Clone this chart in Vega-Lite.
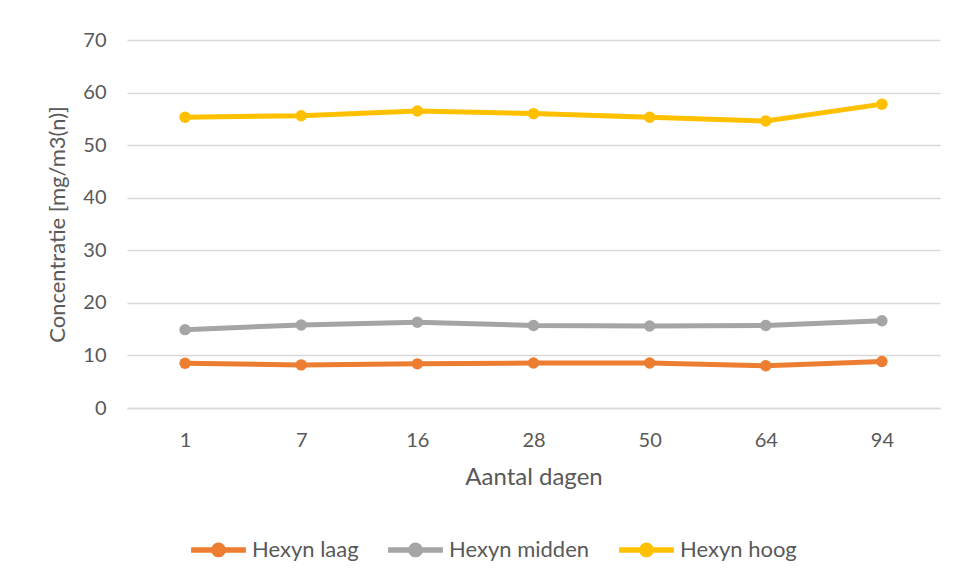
{
  "$schema": "https://vega.github.io/schema/vega-lite/v6.json",
  "width": 813,
  "height": 368,
  "autosize": {"type": "none"},
  "padding": {"left": 127, "top": 40, "right": 20, "bottom": 173},
  "background": "white",
  "config": {
    "view": {"stroke": null},
    "font": "Lato",
    "axis": {"labelColor": "#595959", "titleColor": "#595959", "labelFont": "Lato", "titleFont": "Lato", "titleFontWeight": "normal"},
    "legend": {"labelColor": "#595959", "labelFont": "Lato"}
  },
  "data": {
    "values": [
      {"dag": "1", "serie": "Hexyn laag", "c": 8.5},
      {"dag": "7", "serie": "Hexyn laag", "c": 8.2},
      {"dag": "16", "serie": "Hexyn laag", "c": 8.4},
      {"dag": "28", "serie": "Hexyn laag", "c": 8.55},
      {"dag": "50", "serie": "Hexyn laag", "c": 8.55},
      {"dag": "64", "serie": "Hexyn laag", "c": 8.05},
      {"dag": "94", "serie": "Hexyn laag", "c": 8.85},
      {"dag": "1", "serie": "Hexyn midden", "c": 14.9},
      {"dag": "7", "serie": "Hexyn midden", "c": 15.8},
      {"dag": "16", "serie": "Hexyn midden", "c": 16.3},
      {"dag": "28", "serie": "Hexyn midden", "c": 15.7},
      {"dag": "50", "serie": "Hexyn midden", "c": 15.6},
      {"dag": "64", "serie": "Hexyn midden", "c": 15.7},
      {"dag": "94", "serie": "Hexyn midden", "c": 16.6},
      {"dag": "1", "serie": "Hexyn hoog", "c": 55.3},
      {"dag": "7", "serie": "Hexyn hoog", "c": 55.6},
      {"dag": "16", "serie": "Hexyn hoog", "c": 56.5},
      {"dag": "28", "serie": "Hexyn hoog", "c": 56.0},
      {"dag": "50", "serie": "Hexyn hoog", "c": 55.3},
      {"dag": "64", "serie": "Hexyn hoog", "c": 54.6},
      {"dag": "94", "serie": "Hexyn hoog", "c": 57.8}
    ]
  },
  "encoding": {
    "x": {
      "field": "dag", "type": "ordinal", "sort": null,
      "scale": {"type": "point", "padding": 0.5},
      "axis": {"title": "Aantal dagen", "labelAngle": 0, "labelFontSize": 20, "titleFontSize": 24, "ticks": false, "domainColor": "#D9D9D9", "domainWidth": 1.5, "labelPadding": 22, "titlePadding": 15, "grid": false}
    },
    "y": {
      "field": "c", "type": "quantitative",
      "scale": {"domain": [0, 70]},
      "axis": {"title": "Concentratie [mg/m3(n)]", "values": [0, 10, 20, 30, 40, 50, 60, 70], "labelFontSize": 20, "titleFontSize": 22, "ticks": false, "domain": false, "gridColor": "#D9D9D9", "gridWidth": 1.5, "labelPadding": 21, "titlePadding": 13}
    },
    "color": {
      "field": "serie", "type": "nominal",
      "scale": {"domain": ["Hexyn laag", "Hexyn midden", "Hexyn hoog"], "range": ["#ED7D31", "#A5A5A5", "#FFC000"]},
      "legend": {
        "title": null, "orient": "none", "direction": "horizontal", "legendX": 61, "legendY": 479,
        "labelFontSize": 22, "symbolType": "M-1,0H1M-0.17,0a0.17,0.17 0 1,0 0.34,0a0.17,0.17 0 1,0 -0.34,0", "symbolSize": 3000, "symbolStrokeWidth": 5.5, "labelOffset": 3, "columnPadding": 18,
        "encode": {"symbols": {"update": {"fill": {"scale": "color", "field": "value"}}}}
      }
    }
  },
  "layer": [
    {"mark": {"type": "line", "strokeWidth": 5}},
    {"mark": {"type": "point", "filled": true, "opacity": 1, "size": 130}}
  ]
}
